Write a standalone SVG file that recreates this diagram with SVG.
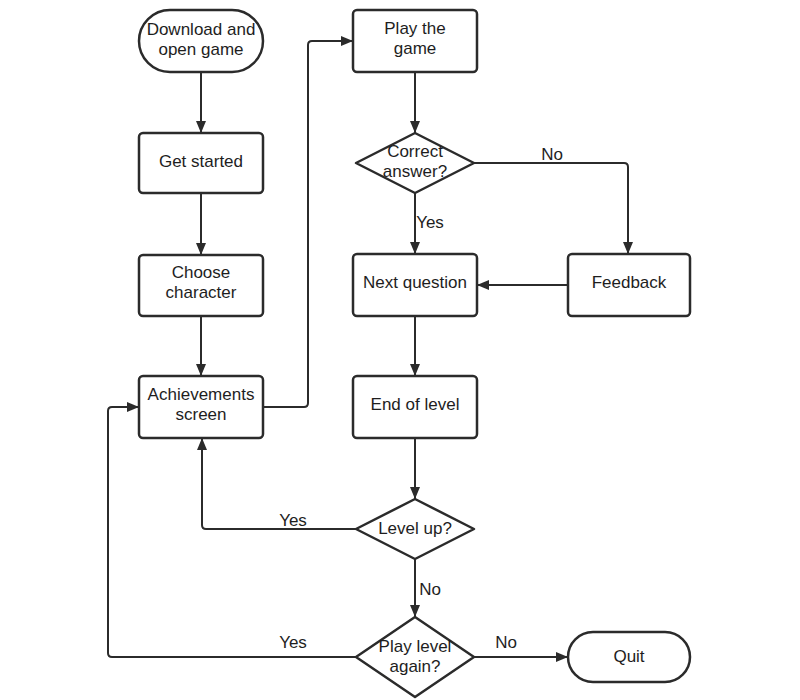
<svg xmlns="http://www.w3.org/2000/svg" width="800" height="700" viewBox="0 0 800 700">
<defs>
<style>
.n{fill:#fff;stroke:#2b2b2b;stroke-width:2.5;stroke-linejoin:round}
.t{font-family:"Liberation Sans",Arial,sans-serif;font-size:17px;fill:#1e1e1e;text-anchor:middle}
.c{fill:none;stroke:#2b2b2b;stroke-width:2;stroke-linejoin:round}
</style>
<marker id="a" viewBox="0 0 12 10" refX="12" refY="5" markerWidth="12" markerHeight="10" markerUnits="userSpaceOnUse" orient="auto">
<path d="M0,0 L12,5 L0,10 Z" fill="#2b2b2b"/>
</marker>
</defs>
<rect width="800" height="700" fill="#fff"/>
<g id="connectors">
<path class="c" d="M201,72 V133" marker-end="url(#a)"/>
<path class="c" d="M201,193 V255" marker-end="url(#a)"/>
<path class="c" d="M201,316 V376" marker-end="url(#a)"/>
<path class="c" d="M263,407 H304 Q308,407 308,403 V45 Q308,41 312,41 H353" marker-end="url(#a)"/>
<path class="c" d="M415,72 V133" marker-end="url(#a)"/>
<path class="c" d="M415,193 V254" marker-end="url(#a)"/>
<path class="c" d="M474,163 H624 Q628,163 628,167 V254" marker-end="url(#a)"/>
<path class="c" d="M568,285 H477" marker-end="url(#a)"/>
<path class="c" d="M415,316 V376" marker-end="url(#a)"/>
<path class="c" d="M415,438 V499" marker-end="url(#a)"/>
<path class="c" d="M356,529 H206 Q202,529 202,525 V438" marker-end="url(#a)"/>
<path class="c" d="M415,559 V617" marker-end="url(#a)"/>
<path class="c" d="M356,657 H112 Q108,657 108,653 V411 Q108,407 112,407 H139" marker-end="url(#a)"/>
<path class="c" d="M474,657 H568" marker-end="url(#a)"/>
<text class="t" x="552" y="160">No</text>
<text class="t" x="430" y="228">Yes</text>
<text class="t" x="293" y="526">Yes</text>
<text class="t" x="430" y="595">No</text>
<text class="t" x="293" y="648">Yes</text>
<text class="t" x="506" y="648">No</text>
</g>
<g id="download">
<rect class="n" x="139" y="10" width="124" height="62" rx="31"/>
<text class="t" x="201" y="35">Download and</text>
<text class="t" x="201" y="55">open game</text>
</g>
<g id="get-started">
<rect class="n" x="139" y="133" width="124" height="60" rx="4"/>
<text class="t" x="201" y="167">Get started</text>
</g>
<g id="choose-character">
<rect class="n" x="139" y="255" width="124" height="61" rx="4"/>
<text class="t" x="201" y="278">Choose</text>
<text class="t" x="201" y="298">character</text>
</g>
<g id="achievements">
<rect class="n" x="139" y="376" width="124" height="62" rx="4"/>
<text class="t" x="201" y="400">Achievements</text>
<text class="t" x="201" y="420">screen</text>
</g>
<g id="play-game">
<rect class="n" x="353" y="10" width="124" height="62" rx="4"/>
<text class="t" x="415" y="34">Play the</text>
<text class="t" x="415" y="54">game</text>
</g>
<g id="correct-answer">
<polygon class="n" points="415,133 474,163 415,193 356,163"/>
<text class="t" x="415" y="157">Correct</text>
<text class="t" x="415" y="177">answer?</text>
</g>
<g id="next-question">
<rect class="n" x="353" y="254" width="124" height="62" rx="4"/>
<text class="t" x="415" y="288">Next question</text>
</g>
<g id="feedback">
<rect class="n" x="568" y="254" width="122" height="62" rx="4"/>
<text class="t" x="629" y="288">Feedback</text>
</g>
<g id="end-of-level">
<rect class="n" x="353" y="376" width="124" height="62" rx="4"/>
<text class="t" x="415" y="410">End of level</text>
</g>
<g id="level-up">
<polygon class="n" points="415,499 474,529 415,559 356,529"/>
<text class="t" x="415" y="534">Level up?</text>
</g>
<g id="play-again">
<polygon class="n" points="415,617 474,657 415,697 356,657"/>
<text class="t" x="415" y="652">Play level</text>
<text class="t" x="415" y="672">again?</text>
</g>
<g id="quit">
<rect class="n" x="568" y="632" width="122" height="50" rx="25"/>
<text class="t" x="629" y="662">Quit</text>
</g>
</svg>
